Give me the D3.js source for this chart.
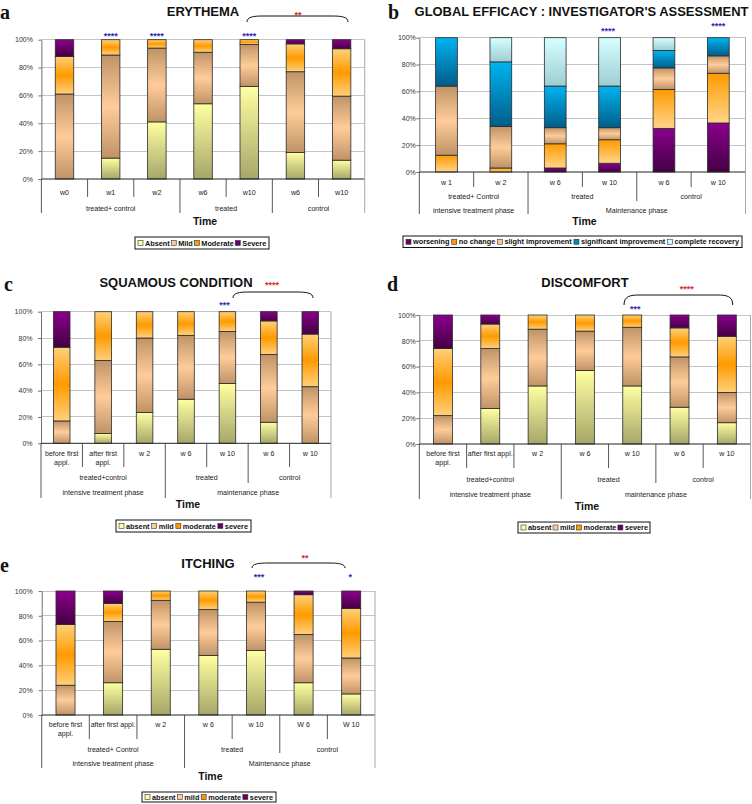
<!DOCTYPE html>
<html><head><meta charset="utf-8">
<script src="https://cdn.jsdelivr.net/npm/d3@7"></script>
<style>body{margin:0;background:#fff}svg{display:block;font-family:"Liberation Sans",Arial,sans-serif}</style>
</head><body>
<script>
// ---------------- DATA ----------------
const severityKeys = ["absent","mild","moderate","severe"];
const severityLegendA = ["Absent","Mild","Moderate","Severe"];
const severityLegend = ["absent","mild","moderate","severe"];
const yTicks = [0,20,40,60,80,100];

// a - Erythema
const erythemaCategories = ["w0","w1","w2","w6","w10","w6","w10"];
const erythemaGroups = ["treated+ control","treated+ control","treated+ control","treated","treated","control","control"];
const erythemaAbsent   = [0, 15, 41, 54, 66.5, 19, 13.5];
const erythemaMild     = [61, 74, 53, 37, 30, 58, 46];
const erythemaModerate = [27, 11, 6, 9, 3.5, 20, 34];
const erythemaSevere   = [12, 0, 0, 0, 0, 3, 6.5];

// b - Global efficacy
const efficacyKeys = ["worsening","noChange","slight","significant","complete"];
const efficacyLegend = ["worsening","no change","slight improvement","significant improvement","complete recovery"];
const efficacyCategories = ["w 1","w 2","w 6","w 10","w 6","w 10"];
const efficacyGroups = ["treated+ Control","treated+ Control","treated","treated","control","control"];
const efficacyPhases = ["intensive treatment phase","intensive treatment phase","Maintenance phase","Maintenance phase","Maintenance phase","Maintenance phase"];
const efficacyWorsening   = [0, 0, 3, 6.5, 32.5, 36.5];
const efficacyNoChange    = [12.5, 3, 18, 17.5, 29, 37];
const efficacySlight      = [51.5, 31, 12, 9, 16, 13];
const efficacySignificant = [36, 48, 31, 31, 13, 13.5];
const efficacyComplete    = [0, 18, 36, 36, 9.5, 0];

// c - Squamous condition
const squamousCategories = ["before first appl.","after first appl.","w 2","w 6","w 10","w 6","w 10"];
const squamousGroups = ["treated+control","treated+control","treated+control","treated","treated","control","control"];
const squamousPhases = ["intensive treatment phase","intensive treatment phase","intensive treatment phase","maintenance phase","maintenance phase","maintenance phase","maintenance phase"];
const squamousAbsent   = [0, 7.5, 23.5, 33.5, 45.5, 16, 0];
const squamousMild     = [17, 55.5, 56.5, 48.5, 39.5, 51.5, 43];
const squamousModerate = [56, 37, 20, 18, 15, 25.5, 40];
const squamousSevere   = [27, 0, 0, 0, 0, 7, 17];

// d - Discomfort
const discomfortCategories = ["before first appl.","after first appl.","w 2","w 6","w 10","w 6","w 10"];
const discomfortGroups = ["treated+control","treated+control","treated+control","treated","treated","control","control"];
const discomfortPhases = ["intensive treatment phase","intensive treatment phase","intensive treatment phase","maintenance phase","maintenance phase","maintenance phase","maintenance phase"];
const discomfortAbsent   = [0, 27.5, 45, 57, 45, 28.5, 16.5];
const discomfortMild     = [22, 46.5, 44, 30.5, 45.5, 39, 23.5];
const discomfortModerate = [52, 19, 11, 12.5, 9.5, 22.5, 43.5];
const discomfortSevere   = [26, 7, 0, 0, 0, 10, 16.5];

// e - Itching
const itchingCategories = ["before first appl.","after first appl.","w 2","w 6","w 10","W 6","W 10"];
const itchingGroups = ["treated+ Control","treated+ Control","treated+ Control","treated","treated","control","control"];
const itchingPhases = ["intensive treatment phase","intensive treatment phase","intensive treatment phase","Maintenance phase","Maintenance phase","Maintenance phase","Maintenance phase"];
const itchingAbsent   = [0, 26, 53, 48, 52, 26, 17];
const itchingMild     = [24, 49.5, 39.5, 37, 39, 39, 29];
const itchingModerate = [49, 14.5, 7.5, 15, 9, 32, 40];
const itchingSevere   = [27, 10, 0, 0, 0, 3, 14];

// ---------------- STYLE ----------------
const W = 752, H = 804;
const svg = d3.select("body").append("svg").attr("width", W).attr("height", H);
const defs = svg.append("defs");
const gradientDefs = {
  absent: [["0","#ffffa2"],["1","#a6a66a"]],
  mild: [["0","#bf9367"],["0.5","#ffcc99"],["1","#bf9367"]],
  moderate: [["0","#ffd07a"],["0.5","#ff9a00"],["1","#ffd07a"]],
  severe: [["0","#8a008c"],["1","#440044"]],
  worsening: [["0","#8a008c"],["1","#440044"]],
  noChange: [["0","#ff9a00"],["1","#ffd58a"]],
  slight: [["0","#bf9367"],["0.5","#ffcc99"],["1","#bf9367"]],
  significant: [["0","#00b4f0"],["1","#005d8a"]],
  complete: [["0","#d6ffff"],["1","#9ecdd3"]]
};
Object.entries(gradientDefs).forEach(([k, stops]) => {
  const lg = defs.append("linearGradient").attr("id", "g-" + k)
    .attr("x1", 0).attr("y1", 0).attr("x2", 0).attr("y2", 1);
  stops.forEach(([o, c]) => lg.append("stop").attr("offset", o).attr("stop-color", c));
});
const swatchColors = {absent:"#ffff99", mild:"#ffcc99", moderate:"#ff9900", severe:"#660066",
  worsening:"#660066", noChange:"#ff9900", slight:"#ffcc99", significant:"#0088bb", complete:"#ccffff"};

const measurer = svg.append("text").attr("x", -1000).attr("y", -1000);
function textWidth(t, size, weight) {
  measurer.attr("font-size", size).attr("font-weight", weight || "normal").text(t);
  return measurer.node().getComputedTextLength();
}
function runs(arr) {
  const out = [];
  arr.forEach((v, i) => {
    if (out.length && out[out.length - 1].label === v) out[out.length - 1].end = i + 1;
    else out.push({label: v, start: i, end: i + 1});
  });
  return out;
}
function rowsFrom(keys, arrays) {
  return arrays[0].map((_, i) => { const r = {}; keys.forEach((k, j) => r[k] = arrays[j][i]); return r; });
}

const panels = [
  { letter:"a", letterX:0, letterY:18.5, title:"ERYTHEMA", titleX:203, titleY:16,
    x0:41.4, x1:364.7, yTop:39.7, yBot:179, tickPad:5.5,
    categories: erythemaCategories, groups: erythemaGroups, phases: null,
    keys: severityKeys, series: [erythemaAbsent, erythemaMild, erythemaModerate, erythemaSevere],
    legend: severityLegendA,
    l1Y:194.5, l1Bottom:197, l2Y:210.5, l2Bottom:213, timeY:225,
    legendBox:[135, 237, 269, 249],
    blue:[{cat:1,dx:0,cy:34,t:"****"},{cat:2,dx:0,cy:34,t:"****"},{cat:4,dx:0,cy:34,t:"****"}],
    red:{x:298, cy:13, t:"**"}, bracket:{x0:247, x1:348, top:16, end:22} },
  { letter:"b", letterX:388, letterY:18.5, title:"GLOBAL EFFICACY : INVESTIGATOR'S ASSESSMENT", titleX:581.5, titleY:16, titleLen:334,
    x0:419.3, x1:745.5, yTop:37.7, yBot:172, tickPad:0.5,
    categories: efficacyCategories, groups: efficacyGroups, phases: efficacyPhases,
    keys: efficacyKeys, series: [efficacyWorsening, efficacyNoChange, efficacySlight, efficacySignificant, efficacyComplete],
    legend: efficacyLegend,
    l1Y:184.5, l1Bottom:187, l2Y:198.5, l2Bottom:201, l3Y:212.5, l3Bottom:214, timeY:225,
    legendBox:[403, 236, 742, 247.5],
    blue:[{cat:3,dx:-1.5,cy:29,t:"****"},{cat:5,dx:0,cy:24,t:"****"}],
    red:null, bracket:null },
  { letter:"c", letterX:4, letterY:291, title:"SQUAMOUS CONDITION", titleX:176, titleY:286.7,
    x0:41, x1:331, yTop:311.7, yBot:443.3, tickPad:5.5,
    categories: squamousCategories, groups: squamousGroups, phases: squamousPhases,
    keys: severityKeys, series: [squamousAbsent, squamousMild, squamousModerate, squamousSevere],
    legend: severityLegend,
    l1Y:455.5, l1Bottom:467, l2Y:479.5, l2Bottom:483, l3Y:494.5, l3Bottom:498, timeY:508,
    legendBox:[116, 520, 251, 532],
    blue:[{cat:4,dx:-3,cy:303,t:"***"}],
    red:{x:272, cy:283, t:"****"}, bracket:{x0:233, x1:313, top:292, end:298} },
  { letter:"d", letterX:387, letterY:291, title:"DISCOMFORT", titleX:585, titleY:286.7,
    x0:419.3, x1:750.5, yTop:315, yBot:444, tickPad:0.5,
    categories: discomfortCategories, groups: discomfortGroups, phases: discomfortPhases,
    keys: severityKeys, series: [discomfortAbsent, discomfortMild, discomfortModerate, discomfortSevere],
    legend: severityLegend,
    l1Y:455.5, l1Bottom:468, l2Y:481.5, l2Bottom:483, l3Y:496.5, l3Bottom:499, timeY:510,
    legendBox:[518, 522, 650, 533],
    blue:[{cat:4,dx:3,cy:307,t:"***"}],
    red:{x:686.7, cy:287, t:"****"}, bracket:{x0:624, x1:732.7, top:295, end:305} },
  { letter:"e", letterX:0, letterY:572, title:"ITCHING", titleX:208, titleY:567.7,
    x0:41.7, x1:375, yTop:591, yBot:715, tickPad:6,
    categories: itchingCategories, groups: itchingGroups, phases: itchingPhases,
    keys: severityKeys, series: [itchingAbsent, itchingMild, itchingModerate, itchingSevere],
    legend: severityLegend,
    l1Y:726.5, l1Bottom:739, l2Y:751.5, l2Bottom:753, l3Y:765.5, l3Bottom:768, timeY:780,
    legendBox:[142, 792, 276, 802],
    blue:[{cat:4,dx:3,cy:575,t:"***"},{cat:6,dx:-1,cy:575,t:"*"}],
    red:{x:305, cy:556, t:"**"}, bracket:{x0:252, x1:345, top:563, end:568} }
];

const catFont = 7.1;
panels.forEach(p => {
  const g = svg.append("g");
  const n = p.categories.length;
  const x = d3.scaleBand().domain(d3.range(n)).range([p.x0, p.x1]).paddingInner(0.6).paddingOuter(0.3);
  const step = (p.x1 - p.x0) / n;
  const y = d3.scaleLinear().domain([0, 100]).range([p.yBot, p.yTop]);

  // letter & title
  g.append("text").attr("x", p.letterX).attr("y", p.letterY)
    .attr("font-family", "'Liberation Serif','Times New Roman',serif").attr("font-weight", "bold")
    .attr("font-size", 20).attr("fill", "#111").text(p.letter);
  const natural = textWidth(p.title, 13, "bold");
  const sx = p.titleLen ? Math.min(1, p.titleLen / natural) : 1;
  g.append("text").attr("transform", `translate(${p.titleX},${p.titleY}) scale(1,${1 / sx})`)
    .attr("text-anchor", "middle")
    .attr("font-weight", "bold").attr("font-size", 13 * sx).attr("fill", "#111").text(p.title);

  // gridlines
  g.append("g").selectAll("line").data(yTicks.filter(d => d > 0)).join("line")
    .attr("x1", p.x0).attr("x2", p.x1).attr("y1", d => y(d)).attr("y2", d => y(d))
    .attr("stroke", "#c4c4c4").attr("stroke-width", 1).attr("shape-rendering", "crispEdges");

  // y axis
  const ya = g.append("g").attr("transform", `translate(${p.x0},0)`)
    .call(d3.axisLeft(y).tickValues(yTicks).tickFormat(d => d + "%").tickSize(3).tickSizeOuter(0).tickPadding(p.tickPad));
  ya.select(".domain").attr("stroke", "#707070");
  ya.selectAll(".tick line").attr("stroke", "#707070");
  ya.selectAll(".tick text").attr("font-size", 7).attr("fill", "#333").attr("font-family", "'Liberation Sans',Arial,sans-serif");

  // bars
  const rows = rowsFrom(p.keys, p.series);
  const stack = d3.stack().keys(p.keys)(rows);
  stack.forEach(layer => {
    g.append("g").selectAll("rect").data(layer.map((d, i) => ({d, i})).filter(o => o.d[1] - o.d[0] > 0)).join("rect")
      .attr("x", o => x(o.i)).attr("width", x.bandwidth())
      .attr("y", o => y(o.d[1])).attr("height", o => y(o.d[0]) - y(o.d[1]))
      .attr("fill", `url(#g-${layer.key})`).attr("stroke", "#2a2a2a").attr("stroke-width", 0.8);
  });

  // category axis
  const levels = [{labels: p.categories, bottom: p.l1Bottom, y: p.l1Y}];
  if (p.groups) levels.push({labels: p.groups, bottom: p.l2Bottom, y: p.l2Y});
  if (p.phases) levels.push({labels: p.phases, bottom: p.l3Bottom, y: p.l3Y});
  const fullBottom = levels[levels.length - 1].bottom;
  const ax = g.append("g");
  ax.append("line").attr("x1", p.x0).attr("x2", p.x1).attr("y1", p.yBot).attr("y2", p.yBot)
    .attr("stroke", "#222").attr("stroke-width", 1);
  for (let b = 1; b < n; b++) {
    let bottom = levels[0].bottom;
    levels.forEach((lv, li) => { if (li > 0 && lv.labels[b] !== lv.labels[b - 1]) bottom = lv.bottom; });
    ax.append("line").attr("x1", p.x0 + b * step).attr("x2", p.x0 + b * step)
      .attr("y1", p.yBot).attr("y2", bottom).attr("stroke", "#444").attr("stroke-width", 0.9);
  }
  ax.append("line").attr("x1", p.x0).attr("x2", p.x0).attr("y1", p.yBot).attr("y2", fullBottom)
    .attr("stroke", "#444").attr("stroke-width", 0.9);
  ax.append("line").attr("x1", p.x1).attr("x2", p.x1).attr("y1", p.yTop).attr("y2", fullBottom)
    .attr("stroke", "#a8a8a8").attr("stroke-width", 1);

  // level 1 labels with wrapping
  p.categories.forEach((c, i) => {
    const cx = p.x0 + (i + 0.5) * step;
    let lines = [c];
    if (textWidth(c, catFont) > step - 1) {
      const words = c.split(" ");
      lines = []; let cur = "";
      words.forEach(w => {
        const t = cur ? cur + " " + w : w;
        if (textWidth(t, catFont) > step - 3 && cur) { lines.push(cur); cur = w; } else cur = t;
      });
      if (cur) lines.push(cur);
    }
    lines.forEach((ln, k) => ax.append("text").attr("x", cx).attr("y", p.l1Y + k * 9.5)
      .attr("text-anchor", "middle").attr("font-size", catFont).attr("fill", "#222").text(ln));
  });
  levels.slice(1).forEach(lv => {
    runs(lv.labels).forEach(r => {
      ax.append("text").attr("x", p.x0 + (r.start + r.end) / 2 * step).attr("y", lv.y)
        .attr("text-anchor", "middle").attr("font-size", catFont).attr("fill", "#222").text(r.label);
    });
  });
  g.append("text").attr("x", (p.x0 + p.x1) / 2 + 2).attr("y", p.timeY).attr("text-anchor", "middle")
    .attr("font-weight", "bold").attr("font-size", 10.5).attr("fill", "#111").text("Time");

  // legend
  const [bx0, by0, bx1, by1] = p.legendBox;
  const lf = 7.3, sw = 5;
  g.append("rect").attr("x", bx0).attr("y", by0).attr("width", bx1 - bx0).attr("height", by1 - by0)
    .attr("fill", "#fff").attr("stroke", "#111").attr("stroke-width", 1);
  const widths = p.legend.map(t => textWidth(t, lf, "bold"));
  const content = d3.sum(widths) + p.legend.length * (sw + 2);
  const gap = Math.max(1.5, (bx1 - bx0 - 6 - content) / (p.legend.length - 1));
  let lx = bx0 + 3;
  const ly = (by0 + by1) / 2;
  p.legend.forEach((t, i) => {
    g.append("rect").attr("x", lx).attr("y", ly - sw / 2).attr("width", sw).attr("height", sw)
      .attr("fill", swatchColors[p.keys[i]]).attr("stroke", "#333").attr("stroke-width", 0.6);
    g.append("text").attr("x", lx + sw + 2).attr("y", ly + lf * 0.36).attr("font-size", lf)
      .attr("font-weight", "bold").attr("fill", "#111").text(t);
    lx += sw + 2 + widths[i] + gap;
  });

  // significance annotations
  const sf = 9;
  p.blue.forEach(b => {
    g.append("text").attr("x", p.x0 + (b.cat + 0.5) * step + b.dx).attr("y", b.cy + sf * 0.58)
      .attr("text-anchor", "middle").attr("font-size", sf).attr("font-weight", "bold").attr("fill", "#2a2ab8").text(b.t);
  });
  if (p.red) g.append("text").attr("x", p.red.x).attr("y", p.red.cy + sf * 0.58)
      .attr("text-anchor", "middle").attr("font-size", sf).attr("font-weight", "bold").attr("fill", "#d42a2a").text(p.red.t);
  if (p.bracket) {
    const b = p.bracket;
    const path = d3.path();
    path.moveTo(b.x0, b.end);
    path.bezierCurveTo(b.x0, b.top + 1, b.x0 + 6, b.top, b.x0 + 16, b.top);
    path.lineTo(b.x1 - 16, b.top);
    path.bezierCurveTo(b.x1 - 6, b.top, b.x1, b.top + 1, b.x1, b.end);
    g.append("path").attr("d", path.toString()).attr("fill", "none").attr("stroke", "#111").attr("stroke-width", 1);
  }
});
measurer.remove();
</script>
</body></html>
